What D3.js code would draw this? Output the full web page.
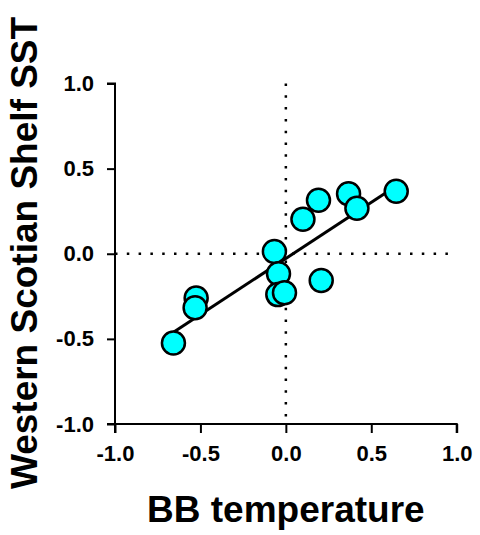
<!DOCTYPE html>
<html>
<head>
<meta charset="utf-8">
<script src="https://cdn.jsdelivr.net/npm/d3@7"></script>
<style>
  html, body { margin: 0; padding: 0; background: #fff; }
  svg { display: block; }
  text { font-family: "Liberation Sans", Arial, Helvetica, sans-serif; font-weight: bold; fill: #000; }
</style>
</head>
<body>
<svg id="chart" width="480" height="535"></svg>
<script>
// Data (BB temperature vs Western Scotian Shelf SST)
const bbTemp   = [-0.658, -0.525, -0.531, -0.067, -0.043, -0.047, -0.008, 0.100, 0.191, 0.207, 0.367, 0.416, 0.646];
const wssSST   = [-0.524, -0.260, -0.317,  0.013, -0.117, -0.240, -0.229, 0.203, 0.314, -0.157, 0.352, 0.267, 0.367];
const xTicks   = [-1.0, -0.5, 0.0, 0.5, 1.0];
const yTicks   = [-1.0, -0.5, 0.0, 0.5, 1.0];
const xTitle   = "BB temperature";
const yTitle   = "Western Scotian Shelf SST";

const svg = d3.select("#chart");
const x = d3.scaleLinear().domain([-1, 1]).range([115, 456.7]);
const y = d3.scaleLinear().domain([-1, 1]).range([424, 83.5]);
const fmt = d => d3.format(".1f")(d).replace("\u2212", "-");

// least-squares fit of the points
const n = bbTemp.length;
const mx = d3.mean(bbTemp), my = d3.mean(wssSST);
let sxy = 0, sxx = 0;
for (let i = 0; i < n; i++) { sxy += (bbTemp[i]-mx)*(wssSST[i]-my); sxx += (bbTemp[i]-mx)**2; }
const slope = sxy / sxx, icpt = my - slope * mx;
const fx = d3.extent(bbTemp);

// zero reference lines (dotted)
svg.append("line")
  .attr("x1", x(0)).attr("x2", x(0)).attr("y1", y(1)).attr("y2", y(-1))
  .attr("stroke", "#000").attr("stroke-width", 2.5).attr("stroke-dasharray", "2.5,9.3");
svg.append("line")
  .attr("x1", x(-1)).attr("x2", x(1)).attr("y1", y(0)).attr("y2", y(0))
  .attr("stroke", "#000").attr("stroke-width", 2.5).attr("stroke-dasharray", "2.5,9.3");

// axes
const xAxis = d3.axisBottom(x).tickValues(xTicks).tickFormat(fmt).tickSize(9).tickPadding(12);
const yAxis = d3.axisLeft(y).tickValues(yTicks).tickFormat(fmt).tickSize(8).tickPadding(13);

const gx = svg.append("g").attr("transform", `translate(0,${y(-1)})`).call(xAxis);
const gy = svg.append("g").attr("transform", `translate(${x(-1)},0)`).call(yAxis);
[gx, gy].forEach(g => {
  g.attr("font-size", null).attr("font-family", null);
  g.select(".domain").attr("stroke", "#000").attr("stroke-width", 2);
  g.selectAll(".tick line").attr("stroke", "#000").attr("stroke-width", 2);
  g.selectAll(".tick text")
    .attr("font-size", 22)
    .style("font", 'bold 22px "Liberation Sans", Arial, sans-serif')
    .attr("fill", "#000");
});
gx.select(".domain").attr("d", `M${x(-1)},9V0H${x(1)}V9`);
gy.select(".domain").attr("d", `M-8,${y(1)}H0V${y(-1)}H-8`);
gx.selectAll(".tick text").attr("dy", "0.71em");

// regression line
svg.append("line")
  .attr("x1", x(fx[0])).attr("y1", y(icpt + slope * fx[0]))
  .attr("x2", x(fx[1])).attr("y2", y(icpt + slope * fx[1]))
  .attr("stroke", "#000").attr("stroke-width", 3);

// points
svg.append("g").selectAll("circle")
  .data(bbTemp.map((v, i) => [v, wssSST[i]]))
  .join("circle")
  .attr("cx", d => x(d[0])).attr("cy", d => y(d[1]))
  .attr("r", 11.5)
  .attr("fill", "#00FFFF").attr("stroke", "#000").attr("stroke-width", 2.5);

// titles
svg.append("text")
  .attr("x", x(0)).attr("y", 522)
  .attr("text-anchor", "middle")
  .style("font", 'bold 37px "Liberation Sans", Arial, sans-serif')
  .text(xTitle);
svg.append("text")
  .attr("transform", `translate(37,253) rotate(-90)`)
  .attr("text-anchor", "middle")
  .style("font", 'bold 37px "Liberation Sans", Arial, sans-serif')
  .text(yTitle);
</script>
</body>
</html>
